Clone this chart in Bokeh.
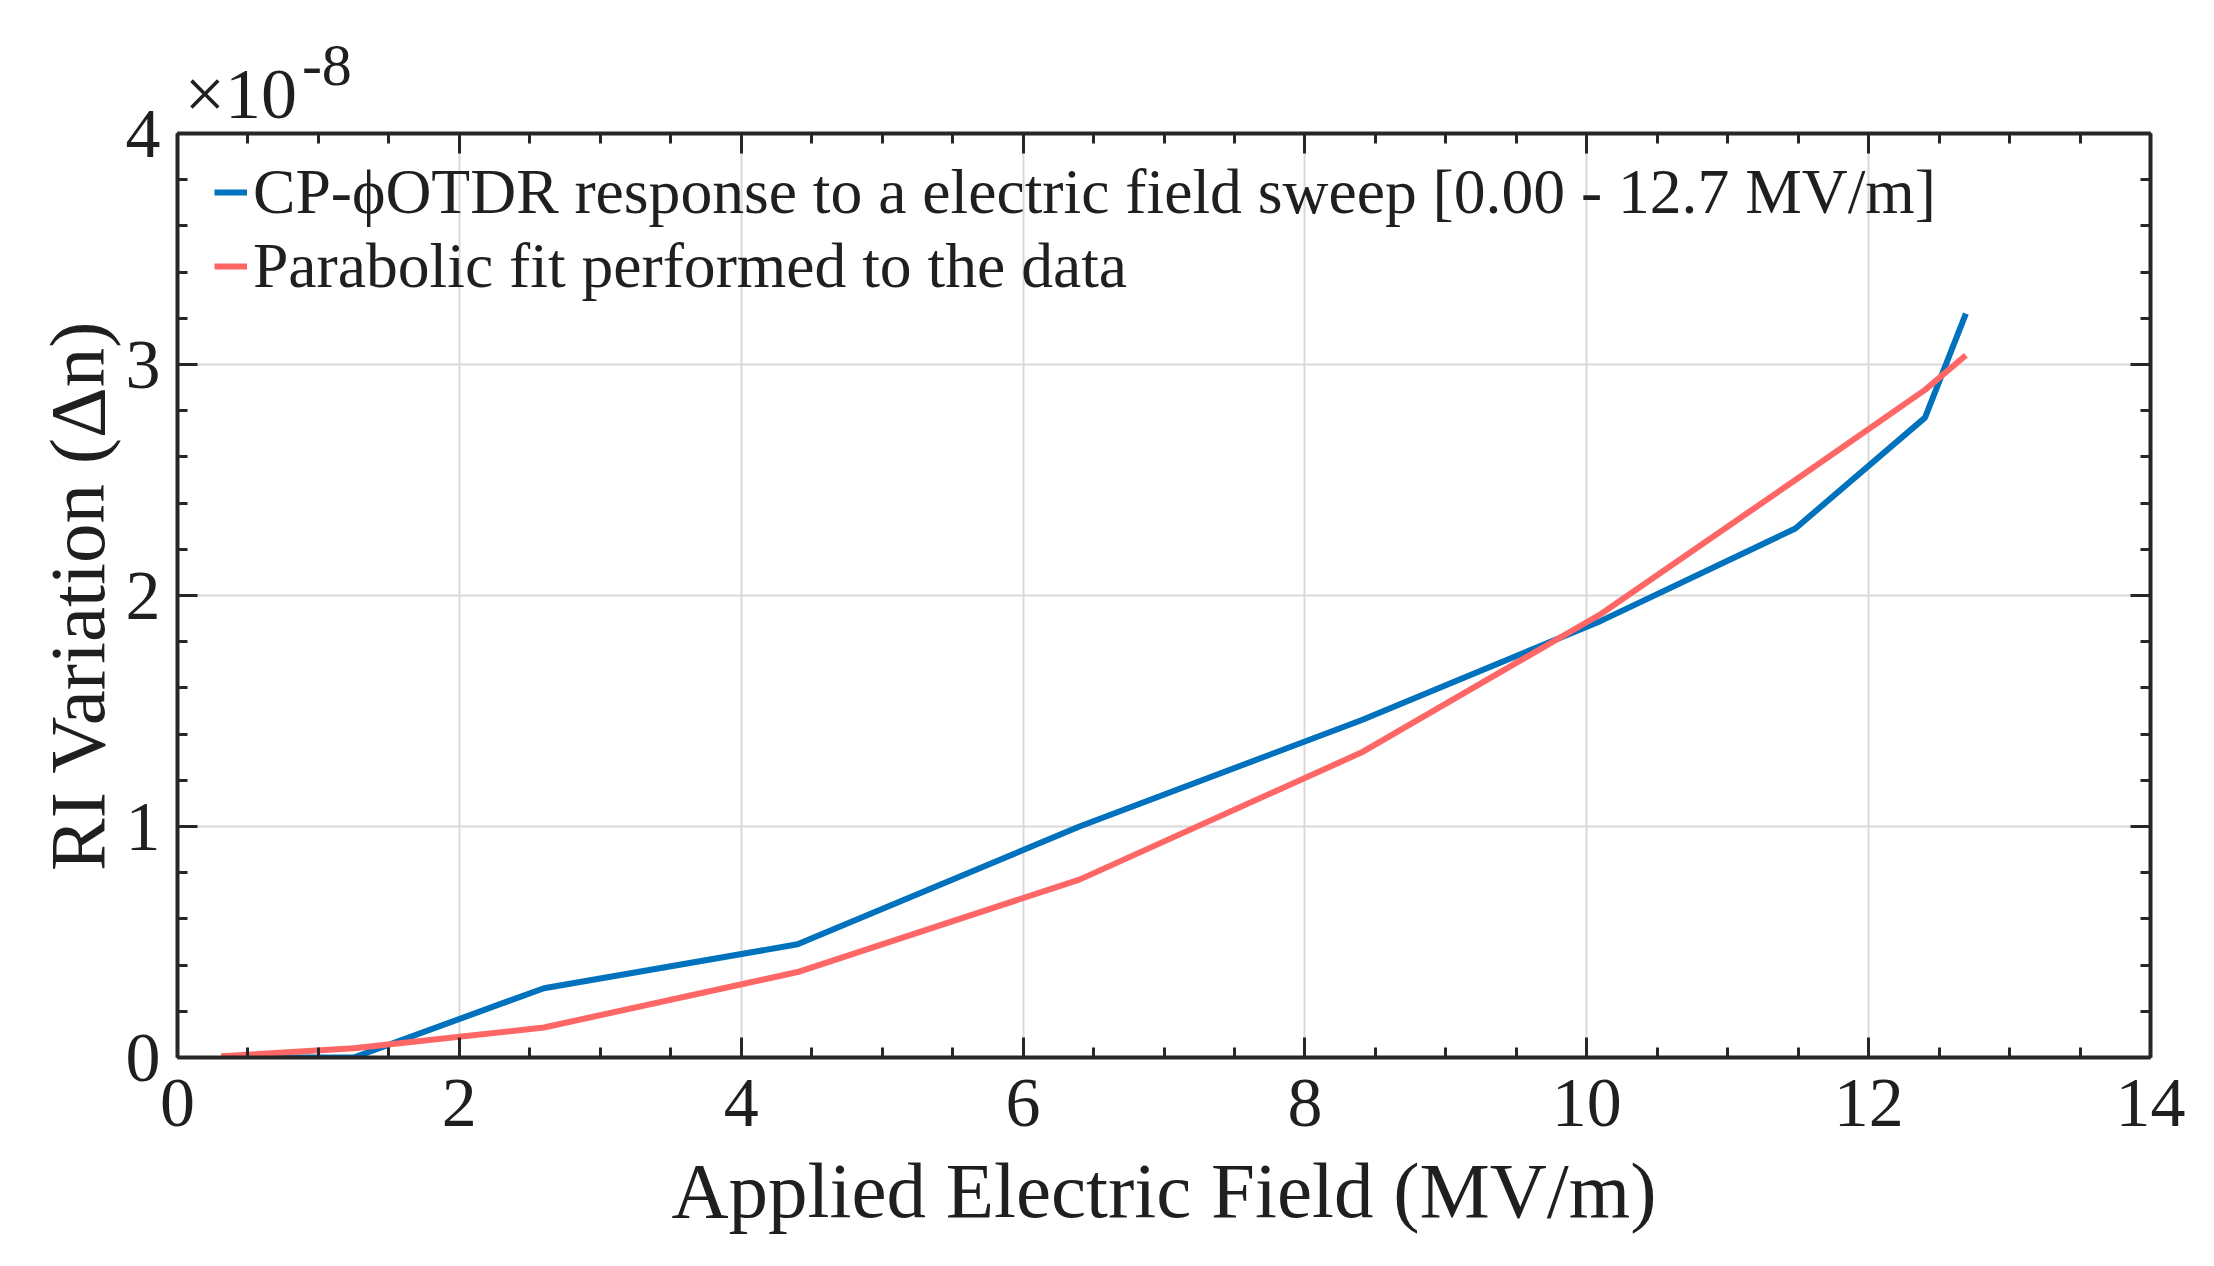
from bokeh.plotting import figure
from bokeh.models import (LinearAxis, Legend, LegendItem, Range1d, Title, FixedTicker,
                          SingleIntervalTicker, CustomJSTickFormatter)
from bokeh.embed import file_html
from bokeh.resources import INLINE

# ---- data (RI variation in units of 1e-8) ----
field_mv_m = [0.31, 1.25, 2.6, 4.4, 6.4, 8.4, 10.1, 11.48, 12.4, 12.69]
ri_response = [0.0, 0.0, 0.30, 0.49, 1.0, 1.46, 1.89, 2.29, 2.77, 3.22]
ri_fit = [0.005, 0.04, 0.13, 0.37, 0.77, 1.32, 1.92, 2.50, 2.89, 3.04]

label_response = "CP-\u03d5OTDR response to a electric field sweep [0.00 - 12.7 MV/m]"
label_fit = "Parabolic fit performed to the data"
x_title = "Applied Electric Field (MV/m)"
y_title = "RI Variation (\u0394n)"
exp_base = "\u00d710"
exp_power = "-8"

FONT = "Liberation Serif"
TXT = "#1f1f1f"
AX = "#262626"

p = figure(width=2206, height=1258, x_range=Range1d(0, 14), y_range=Range1d(0, 4),
           output_backend="svg", toolbar_location=None,
           min_border_left=177, min_border_right=56, min_border_top=133,
           min_border_bottom=201)
p.outline_line_color = None
p.background_fill_color = "white"

bottom = p.below[0]
left = p.left[0]

xt = SingleIntervalTicker(interval=2, num_minor_ticks=4)
yt = SingleIntervalTicker(interval=1, num_minor_ticks=5)
bottom.ticker = xt
left.ticker = yt
p.xgrid.ticker = xt
p.ygrid.ticker = yt
for g in (p.xgrid, p.ygrid):
    g.grid_line_color = "#d9d9d9"
    g.grid_line_width = 2

top = LinearAxis(ticker=xt, formatter=CustomJSTickFormatter(code="return ''"))
right = LinearAxis(ticker=yt, formatter=CustomJSTickFormatter(code="return ''"))
p.add_layout(top, "above")
p.add_layout(right, "right")

for ax in (bottom, left, top, right):
    ax.axis_line_color = AX
    ax.axis_line_width = 4
    ax.major_tick_line_color = AX
    ax.major_tick_line_width = 3
    ax.minor_tick_line_color = AX
    ax.minor_tick_line_width = 3
    ax.major_tick_in = 20
    ax.major_tick_out = 0
    ax.minor_tick_in = 10
    ax.minor_tick_out = 0
    ax.major_label_text_font = FONT
    ax.major_label_text_font_size = "70px"
    ax.major_label_text_color = TXT
    ax.axis_label_text_font = FONT
    ax.axis_label_text_font_size = "79px"
    ax.axis_label_text_font_style = "normal"
    ax.axis_label_text_color = TXT

for ax in (top, right):
    ax.major_label_text_font_size = "0px"
    ax.major_label_standoff = 0

bottom.major_label_standoff = 22
left.major_label_standoff = 17
bottom.axis_label = x_title
bottom.axis_label_standoff = 18
left.axis_label = y_title
left.axis_label_standoff = 2

r1 = p.line(field_mv_m, ri_response, line_color="#0072BD", line_width=6)
r2 = p.line(field_mv_m, ri_fit, line_color="#FF6666", line_width=6)

legend = Legend(items=[LegendItem(label=label_response, renderers=[r1]),
                       LegendItem(label=label_fit, renderers=[r2])],
                location=(37, 754))
legend.label_text_font = FONT
legend.label_text_font_size = "63.6px"
legend.label_text_color = TXT
legend.glyph_width = 33
legend.glyph_height = 20
legend.label_standoff = 6
legend.padding = 0
legend.margin = 0
legend.spacing = -10
legend.background_fill_alpha = 0
legend.border_line_color = None
p.add_layout(legend)

# exponent annotation above the axes: base as a title, power as a tick label
p.add_layout(Title(text=exp_base, align="left", offset=7, standoff=0,
                   text_font=FONT, text_font_size="72px", text_color=TXT,
                   text_font_style="normal"), "above")
exp_axis = LinearAxis(ticker=FixedTicker(ticks=[1.06], minor_ticks=[]),
                      formatter=CustomJSTickFormatter(args=dict(t=exp_power), code="return t"))
exp_axis.axis_line_color = None
exp_axis.major_tick_line_color = None
exp_axis.minor_tick_line_color = None
exp_axis.major_tick_out = 0
exp_axis.major_tick_in = 0
exp_axis.major_label_text_font = FONT
exp_axis.major_label_text_font_size = "60px"
exp_axis.major_label_text_color = TXT
exp_axis.major_label_text_align = "center"
exp_axis.major_label_text_baseline = "alphabetic"
exp_axis.major_label_standoff = -33
p.add_layout(exp_axis, "above")

open("out.html", "w").write(file_html(p, INLINE))
